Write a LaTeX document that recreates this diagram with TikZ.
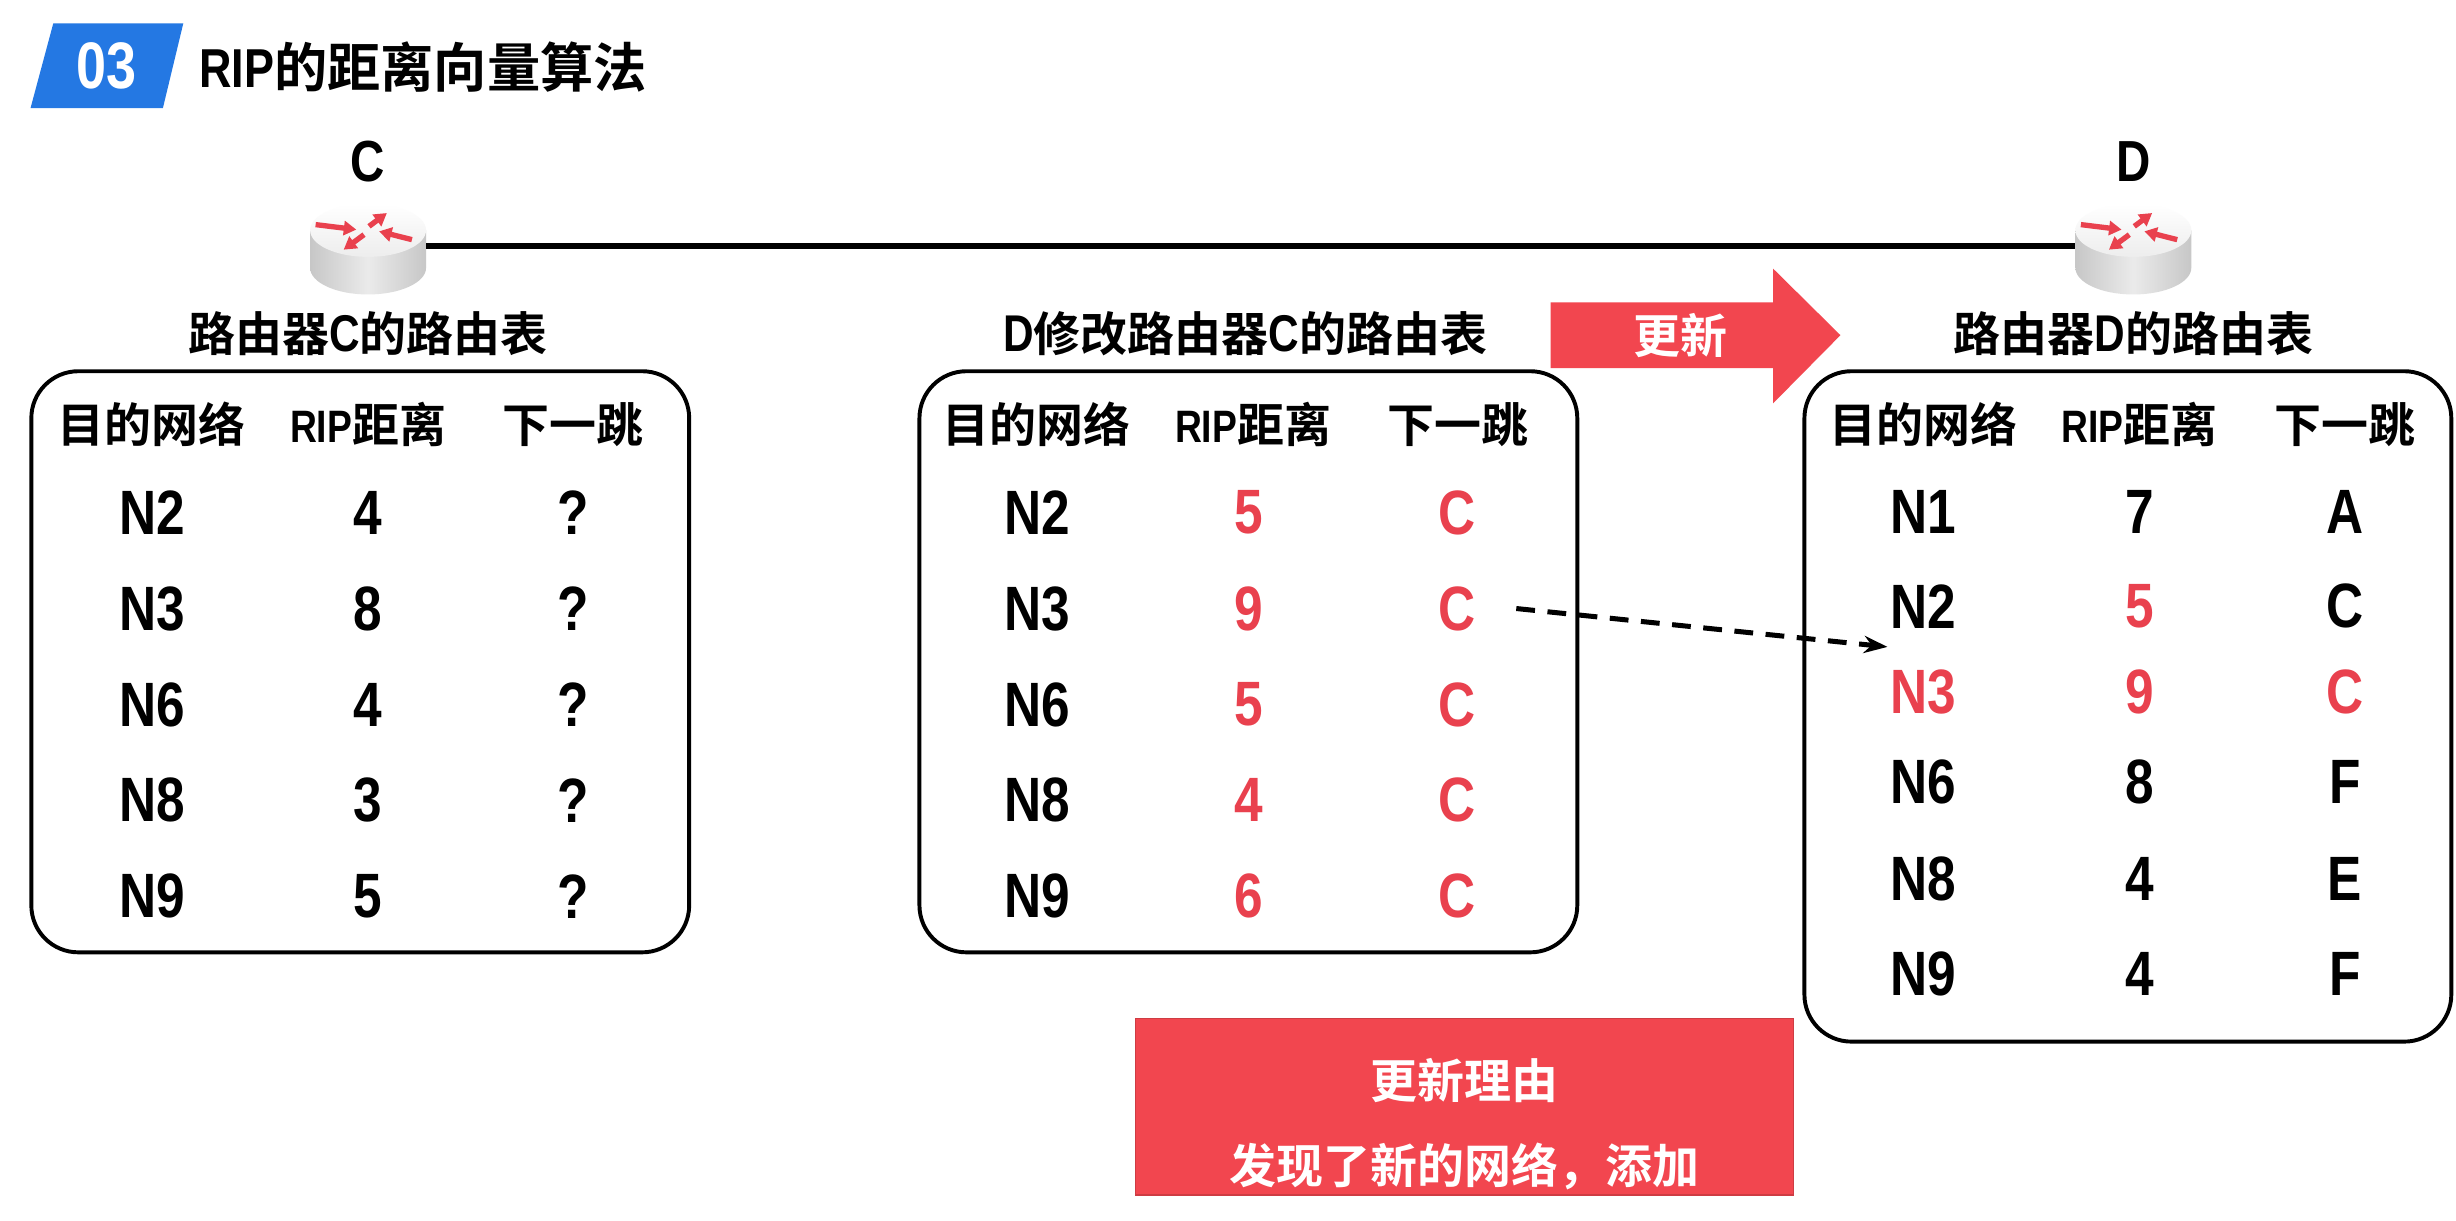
\documentclass[tikz,border=0pt]{standalone}
\usepackage{fontspec}
\usetikzlibrary{arrows.meta}
\newfontfamily\cjk{Noto Sans CJK SC Bold}
\newfontfamily\lat{Liberation Sans Bold}[FakeStretch=0.82]
\definecolor{rred}{HTML}{F2464F}
\definecolor{tred}{HTML}{E9414E}
\definecolor{tblue}{HTML}{2478E3}
\newcommand\drawrouter[1]{%
  \begin{scope}[shift={(#1)}]
    \shade[left color=black!22, right color=black!22, middle color=black!8]
      (-37,-10) -- (-37,14) arc[start angle=180, end angle=0, x radius=37, y radius=17] -- (37,-10) -- cycle;
    \shade[top color=white, bottom color=black!7] (0,-10) ellipse [x radius=37, y radius=17];
    \begin{scope}[line width=3.4pt, draw=tred, -{Triangle[length=8pt,width=9pt]}]
      \draw (-33.5,-13.6) -- (-7.5,-10.4);
      \draw (0.6,-12.5) -- (12,-21);
      \draw (28,-4) -- (7,-9.3);
      \draw (-2.6,-7.2) -- (-15.6,2.4);
    \end{scope}
  \end{scope}}
\tikzset{
  cell/.style={inner sep=0pt, font=\lat\fontsize{40}{44}\selectfont},
  rcell/.style={cell, text=tred},
  hdr/.style={inner sep=0pt, font=\cjk\fontsize{30}{34}\selectfont},
  capt/.style={inner sep=0pt, font=\cjk\fontsize{30}{34}\selectfont},
  tablebox/.style={draw, line width=2.5pt, rounded corners=30pt, inner sep=0pt},
  routerbox/.style={inner sep=0pt, minimum width=74pt, minimum height=59pt},
  rlabel/.style={inner sep=0pt, font=\lat\fontsize{37}{40}\selectfont},
  wtext/.style={inner sep=0pt, text=white, font=\cjk\fontsize{30}{34}\selectfont},
}
\begin{document}
\begin{tikzpicture}[x=1pt, y=-1pt]
\useasboundingbox (0,0) rectangle (1568,779);
\fill[white] (0,0) rectangle (1568,779);
% title
\fill[tblue] (34,15) -- (117,15) -- (104,69) -- (19.5,69) -- cycle;
\node[inner sep=0pt, text=white, font=\lat\fontsize{42}{44}\selectfont] (num) at (68,42) {03};
\node[anchor=west, inner sep=0pt, font=\cjk\fontsize{34}{38}\selectfont] (title) at (127,43)
  {{\lat\fontsize{35}{38}\selectfont RIP}的距离向量算法};
% routers
\node[routerbox] (rC) at (235,157) {};
\node[routerbox] (rD) at (1362,157) {};
\drawrouter{rC}
\drawrouter{rD}
\draw[line width=4pt] (rC) -- (rD);
\node[rlabel] (lC) at (235,103) {C};
\node[rlabel] (lD) at (1362,103) {D};
% captions
\node[capt] (capC) at (235,213) {路由器{\lat\fontsize{33}{34}\selectfont C}的路由表};
\node[capt] (capM) at (795,213) {{\lat\fontsize{33}{34}\selectfont D}修改路由器{\lat\fontsize{33}{34}\selectfont C}的路由表};
\node[capt] (capD) at (1362,213) {路由器{\lat\fontsize{33}{34}\selectfont D}的路由表};
% update arrow
\fill[rred] (990,193) -- (1132,193) -- (1132,171.5) -- (1175,214) -- (1132,257.5) -- (1132,235) -- (990,235) -- cycle;
\node[wtext] (upd) at (1073,214) {更新};
% table boxes
\node[tablebox, minimum width=420pt, minimum height=371pt] (tC) at (230,422.5) {};
\node[tablebox, minimum width=420pt, minimum height=371pt] (tM) at (797,422.5) {};
\node[tablebox, minimum width=413pt, minimum height=428pt] (tD) at (1358.5,451) {};
% headers
\foreach \t/\x in {C/0, M/565, D/1131}{
  \node[hdr] (h\t1) at (97+\x,271) {目的网络};
  \node[hdr] (h\t2) at (235+\x,271) {{\lat\fontsize{29}{30}\selectfont RIP}距离};
  \node[hdr] (h\t3) at (366+\x,271) {下一跳};
}
% table C
\foreach \n/\d [count=\i] in {N2/4, N3/8, N6/4, N8/3, N9/5}{
  \node[cell] (c\i1) at (97,{266+61.25*\i}) {\n};
  \node[cell] (c\i2) at (235,{266+61.25*\i}) {\d};
  \node[cell] (c\i3) at (366,{266+61.25*\i}) {?};
}
% table M
\foreach \n/\d [count=\i] in {N2/5, N3/9, N6/5, N8/4, N9/6}{
  \node[cell] (m\i1) at (662,{266+61.25*\i}) {\n};
  \node[rcell] (m\i2) at (797,{266+61.25*\i}) {\d};
  \node[rcell] (m\i3) at (930,{266+61.25*\i}) {C};
}
% table D
\node[cell] (d11) at (1228,327) {N1}; \node[cell] (d12) at (1366,327) {7}; \node[cell] (d13) at (1497,327) {A};
\node[cell] (d21) at (1228,387) {N2}; \node[rcell] (d22) at (1366,387) {5}; \node[cell] (d23) at (1497,387) {C};
\node[rcell] (d31) at (1228,442) {N3}; \node[rcell] (d32) at (1366,442) {9}; \node[rcell] (d33) at (1497,442) {C};
\node[cell] (d41) at (1228,499) {N6}; \node[cell] (d42) at (1366,499) {8}; \node[cell] (d43) at (1497,499) {F};
\node[cell] (d51) at (1228,561) {N8}; \node[cell] (d52) at (1366,561) {4}; \node[cell] (d53) at (1497,561) {E};
\node[cell] (d61) at (1228,622) {N9}; \node[cell] (d62) at (1366,622) {4}; \node[cell] (d63) at (1497,622) {F};
% dashed arrow
\coordinate (aEnd) at (1205,413);
\draw[line width=3.2pt, dash pattern=on 12pt off 8pt, -{Stealth[length=15pt,width=11pt]}]
  ([xshift=26pt]m23.east) -- (aEnd);
% reason box
\node[draw=rred!85!black, line width=0.8pt, fill=rred, minimum width=420pt, minimum height=113pt, inner sep=0pt] (why) at (935,706.5) {};
\node[wtext] (why1) at (935,690) {更新理由};
\node[wtext] (why2) at (935,745) {发现了新的网络，添加};
\end{tikzpicture}
\end{document}
